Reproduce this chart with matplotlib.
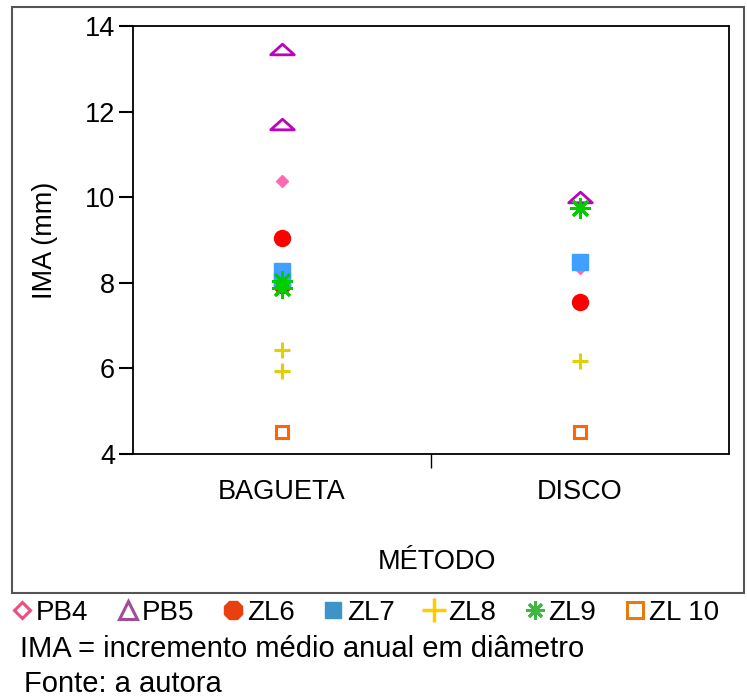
import matplotlib
matplotlib.use("Agg")
import matplotlib.pyplot as plt
import matplotlib.patches as mpatches
from matplotlib.lines import Line2D
from matplotlib.path import Path

plt.rcParams["font.family"] = ["Liberation Sans", "DejaVu Sans"]

# categories and series values (IMA, mm)
metodos = ["BAGUETA", "DISCO"]
series = ["PB4", "PB5", "ZL6", "ZL7", "ZL8", "ZL9", "ZL 10"]
valores = {
    "PB4": [[10.38], [8.35]],
    "PB5": [[13.46, 11.71], [10.0]],
    "ZL6": [[9.05, 7.95], [7.55]],
    "ZL7": [[8.28, 8.1], [8.49]],
    "ZL8": [[6.43, 5.94], [6.17]],
    "ZL9": [[8.05, 7.88], [9.75]],
    "ZL 10": [[4.51], [4.51]],
}
yticks = [4, 6, 8, 10, 12, 14]

flat_tri = Path([(-1, -0.45), (1, -0.45), (0, 0.45), (-1, -0.45)],
                [Path.MOVETO, Path.LINETO, Path.LINETO, Path.CLOSEPOLY])

# marker styles in the plot area
estilo = {
    "PB4": dict(marker="D", ms=6, mfc="#ff69b4", mec="#ff69b4"),
    "PB5": dict(marker=flat_tri, ms=17, mfc="none", mec="#c000c0", mew=2),
    "ZL6": dict(marker="o", ms=11.5, mfc="#ff0000", mec="#ff0000"),
    "ZL7": dict(marker="s", ms=11.5, mfc="#40a0ff", mec="#40a0ff"),
    "ZL8": dict(marker="+", ms=12, mec="#e0d000", mew=2.2),
    "ZL9": dict(marker=(8, 2, 0), ms=15, mec="#00cc00", mew=2),
    "ZL 10": dict(marker="s", ms=8, mfc="none", mec="#ff6600", mew=2.2),
}
# marker styles in the legend row
legenda = {
    "PB4": dict(marker="D", ms=8, mfc="none", mec="#e8507f", mew=2.2),
    "PB5": dict(marker="^", ms=13, mfc="none", mec="#a04d98", mew=2.2),
    "ZL6": dict(marker="8", ms=14, mfc="#e84010", mec="#e84010"),
    "ZL7": dict(marker="s", ms=12, mfc="#3c94c8", mec="#3c94c8"),
    "ZL8": dict(marker="+", ms=17, mec="#ffcc00", mew=2.5),
    "ZL9": dict(marker=(8, 2, 0), ms=13, mec="#40b840", mew=2.2),
    "ZL 10": dict(marker="s", ms=12, mfc="none", mec="#e87a10", mew=2.2),
}

W, H = 747, 697
FS = 19.5
fig = plt.figure(figsize=(W / 100, H / 100), dpi=100, facecolor="white")
ax = fig.add_axes([133 / W, 1 - 454 / H, (729 - 133) / W, (454 - 26) / H])

for s in series:
    for i, vals in enumerate(valores[s]):
        ax.plot([i] * len(vals), vals, linestyle="none", **estilo[s])

ax.set_xlim(-0.5, 1.5)
ax.set_ylim(4, 14)
ax.set_yticks(yticks)
ax.set_xticks([0, 1])
ax.set_xticklabels(metodos)
ax.set_xticks([0.5], minor=True)
ax.tick_params(axis="x", which="major", length=0, pad=18, labelsize=FS)
ax.tick_params(axis="x", which="minor", length=10, width=1, direction="out")
ax.tick_params(axis="y", length=10, width=1.5, direction="out", pad=3, labelsize=FS)
for sp in ax.spines.values():
    sp.set_linewidth(1.3)

ax.set_ylabel("IMA (mm)", fontsize=FS)
ax.yaxis.set_label_coords((45 - 133) / 596, 0.5)
ax.set_xlabel("MÉTODO", fontsize=FS)
ax.xaxis.set_label_coords((437 - 133) / 596, -(562 - 454) / 428)
ax.xaxis.label.set_va("center")
ax.yaxis.label.set_va("center")

# outer frame
fig.add_artist(mpatches.Rectangle((12 / W, 1 - 593 / H), (744 - 12) / W, (593 - 7) / H,
                                  transform=fig.transFigure, fill=False,
                                  edgecolor="#555555", linewidth=1.5))

handles = [Line2D([0], [0], linestyle="none", label=s, **legenda[s]) for s in series]
fig.legend(handles=handles, loc="center left", bbox_to_anchor=(14 / W, 1 - 613 / H),
           ncol=7, frameon=False, fontsize=20, handlelength=0.6, handletextpad=0.2,
           columnspacing=1.1, borderaxespad=0, borderpad=0)

fig.text(20 / W, 1 - 649 / H, "IMA = incremento médio anual em diâmetro", fontsize=21, va="center")
fig.text(24 / W, 1 - 684 / H, "Fonte: a autora", fontsize=21, va="center")

fig.savefig("out.png", dpi=100)
